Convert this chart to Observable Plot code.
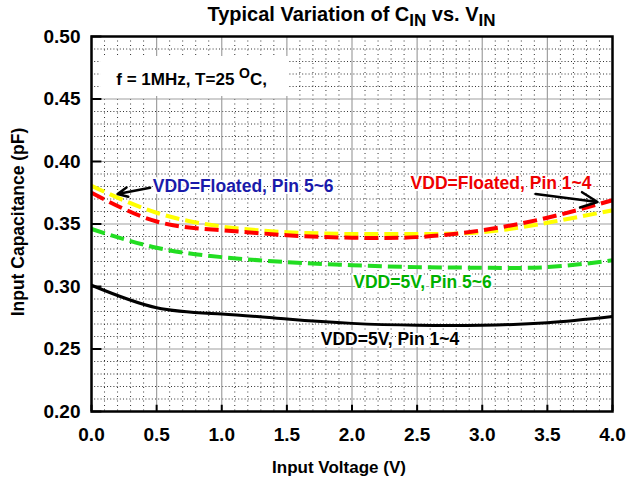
<!DOCTYPE html>
<html><head><meta charset="utf-8">
<script src="https://cdn.jsdelivr.net/npm/d3@7"></script>
<script src="https://cdn.jsdelivr.net/npm/@observablehq/plot@0.6"></script>
<style>
body{margin:0;background:#fff;font-family:"Liberation Sans",Arial,sans-serif;}
#title{position:relative;width:627px;height:22px;}
#title div{position:absolute;left:91px;width:521px;top:3px;text-align:center;font-weight:bold;font-size:20px;line-height:23px;color:#000;white-space:nowrap;}
#title sub{font-size:17px;vertical-align:-5px;line-height:0;}
#chart svg{display:block;}
</style></head>
<body>
<div id="title"><div>Typical Variation of C<sub>IN</sub> vs. V<sub>IN</sub></div></div>
<div id="chart"></div>
<script>
const voltage = [0, 0.5, 1.0, 1.5, 2.0, 2.5, 3.0, 3.5, 4.0];
const vdd5Pin14 = [0.301, 0.283, 0.278, 0.274, 0.2705, 0.269, 0.269, 0.271, 0.276];
const vdd5Pin56 = [0.346, 0.331, 0.3235, 0.3195, 0.317, 0.3155, 0.315, 0.3155, 0.321];
const floatPin56 = [0.3805, 0.359, 0.348, 0.3435, 0.342, 0.342, 0.3435, 0.351, 0.361];
const floatPin14 = [0.375, 0.352, 0.345, 0.341, 0.339, 0.3395, 0.345, 0.355, 0.369];
const yTicks = [0.20, 0.25, 0.30, 0.35, 0.40, 0.45, 0.50];
const xTicks = [0, 0.5, 1.0, 1.5, 2.0, 2.5, 3.0, 3.5, 4.0];

const series = [
  {name: "VDD=5V, Pin 1~4", values: vdd5Pin14, color: "#000000", dash: null, width: 3},
  {name: "VDD=5V, Pin 5~6", values: vdd5Pin56, color: "#22dd22", dash: "14,6", width: 4},
  {name: "VDD=Floated, Pin 5~6", values: floatPin56, color: "#ffff00", dash: "14,6", width: 4},
  {name: "VDD=Floated, Pin 1~4", values: floatPin14, color: "#ff0000", dash: "14,6", width: 4}
];

const labels = [
  {text: "VDD=Floated, Pin 5~6", x: 0.47, y: 0.380, color: "#1a1aaa"},
  {text: "VDD=Floated, Pin 1~4", x: 2.45, y: 0.3825, color: "#ee0000"},
  {text: "VDD=5V, Pin 5~6", x: 2.01, y: 0.3035, color: "#00b000"},
  {text: "VDD=5V, Pin 1~4", x: 1.76, y: 0.2573, color: "#000000"}
];
const arrows = [
  {x1: 0.45, y1: 0.379, x2: 0.2, y2: 0.374},
  {x1: 3.41, y1: 0.374, x2: 3.885, y2: 0.3676}
];
const condText = "f = 1MHz, T=25 OC,";
const condBox = [{x1: 0.07, x2: 1.52, y1: 0.452, y2: 0.484}];

const minorX = d3.range(0, 41).map(i => i / 10).filter(v => Math.abs(v * 2 - Math.round(v * 2)) > 1e-6);
const minorY = d3.range(20, 51).map(i => i / 100).filter(v => Math.abs(v * 20 - Math.round(v * 20)) > 1e-6);

const marks = [
  Plot.ruleX(minorX, {stroke: "#333", strokeWidth: 1, strokeDasharray: "1,3.5"}),
  Plot.ruleY(minorY, {stroke: "#333", strokeWidth: 1, strokeDasharray: "1,2.2"}),
  Plot.ruleX(xTicks, {stroke: "#a0a0a0", strokeWidth: 1.2}),
  Plot.ruleY(yTicks, {stroke: "#a0a0a0", strokeWidth: 1.2}),
  Plot.rect(condBox, {x1: "x1", x2: "x2", y1: "y1", y2: "y2", fill: "white"}),
  Plot.ruleX(xTicks, {y1: 0.2, y2: 0.205, stroke: "#000", strokeWidth: 2}),
  Plot.ruleY(yTicks, {x1: 0, x2: 0.08, stroke: "#000", strokeWidth: 2}),
];
for (const s of series) {
  marks.push(Plot.line(voltage.map((v, i) => ({x: v, y: s.values[i]})), {
    x: "x", y: "y", stroke: s.color, strokeWidth: s.width,
    strokeDasharray: s.dash, curve: "natural", strokeLinecap: "butt"
  }));
}
marks.push(
  Plot.arrow(arrows, {x1: "x1", y1: "y1", x2: "x2", y2: "y2", stroke: "#000", strokeWidth: 2.5, headLength: 11, headAngle: 50}),
  Plot.text(labels, {x: "x", y: "y", text: "text", fill: "color", textAnchor: "start",
    fontSize: 17.5, fontWeight: "bold", stroke: "white", strokeWidth: 4, paintOrder: "stroke"}),
  Plot.text([condText], {x: 0.19, y: 0.4655, text: d => d, textAnchor: "start", fontSize: 17, fontWeight: "bold", fill: "#000"}),
  Plot.text(["Input Voltage (V)"], {frameAnchor: "bottom", dy: 61, dx: -13, fontSize: 17, fontWeight: "bold", fill: "#000"}),
  Plot.text(["Input Capacitance (pF)"], {frameAnchor: "left", textAnchor: "middle", dx: -73, dy: -2, rotate: -90, fontSize: 17.5, fontWeight: "bold", fill: "#000"}),
  Plot.frame({stroke: "#000", strokeWidth: 2.5}),
  Plot.axisX(xTicks, {tickSize: 0, tickPadding: 16, tickFormat: d3.format(".1f"), fontSize: 19, fontWeight: "bold", label: null}),
  Plot.axisY(yTicks, {tickSize: 0, tickPadding: 11, tickFormat: d3.format(".2f"), fontSize: 19, fontWeight: "bold", label: null})
);

const chart = Plot.plot({
  width: 627, height: 465,
  marginTop: 14, marginBottom: 76, marginLeft: 91, marginRight: 15,
  x: {domain: [0, 4]},
  y: {domain: [0.2, 0.5]},
  style: {fontFamily: "'Liberation Sans', Arial, sans-serif", fontWeight: "bold", fontSize: "16px", color: "#000", background: "transparent", overflow: "visible"},
  marks
});
document.getElementById("chart").appendChild(chart);

// superscript "O" in the condition annotation
for (const t of chart.querySelectorAll("text, tspan")) {
  if (t.childElementCount === 0 && t.textContent === condText) {
    t.textContent = "";
    const ns = "http://www.w3.org/2000/svg";
    const a = document.createElementNS(ns, "tspan"); a.textContent = "f = 1MHz, T=25 ";
    const b = document.createElementNS(ns, "tspan"); b.textContent = "O"; b.setAttribute("dy", "-7"); b.setAttribute("font-size", "14");
    const c = document.createElementNS(ns, "tspan"); c.textContent = "C,"; c.setAttribute("dy", "7");
    t.append(a, b, c);
  }
}
</script>
</body></html>
